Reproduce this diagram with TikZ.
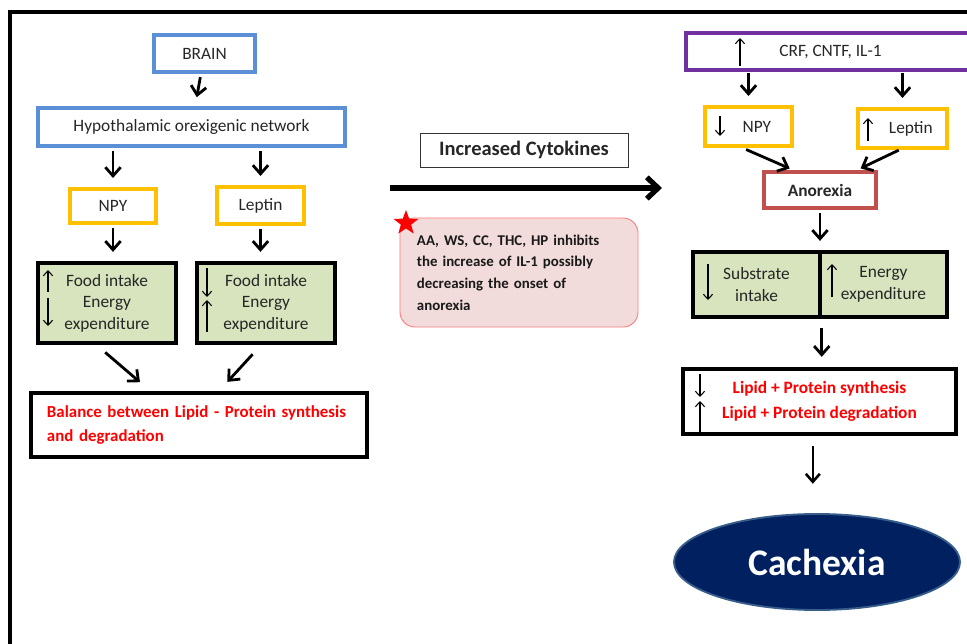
\documentclass[tikz,border=0pt]{standalone}
\usepackage{fontspec}
\setmainfont{Carlito}
\usetikzlibrary{arrows.meta, shapes.geometric}
\definecolor{boxblue}{RGB}{91,143,214}
\definecolor{boxgold}{RGB}{255,192,0}
\definecolor{boxpurple}{RGB}{112,48,160}
\definecolor{boxred}{RGB}{192,80,77}
\definecolor{boxgreen}{RGB}{215,228,189}
\definecolor{notepink}{RGB}{242,220,219}
\definecolor{noteedge}{RGB}{255,124,128}
\definecolor{cachnavy}{RGB}{0,32,96}
\definecolor{cachedge}{RGB}{56,93,138}
\tikzstyle{plain} = [rectangle, inner sep=0, text=black!85, font=\fontsize{14.8}{17}\selectfont, align=center]
\tikzstyle{bluebox} = [plain, draw=boxblue, line width=2.8pt]
\tikzstyle{goldbox} = [plain, draw=boxgold, line width=2.8pt]
\tikzstyle{greenbox} = [plain, draw=black, line width=3pt, fill=boxgreen, font=\fontsize{14.8}{18.3}\selectfont]
\tikzstyle{redtext} = [plain, draw=black, line width=2.8pt, text=red, font=\bfseries\fontsize{14.4}{21}\selectfont]
\tikzstyle{arrow} = [line width=2.4pt, -{Straight Barb[length=2.6mm,width=4.6mm]}, shorten <=3pt, shorten >=8pt]
\tikzstyle{updown} = [line width=0.9pt, -{Straight Barb[length=1.5mm,width=2.8mm]}]

\begin{document}
\begin{tikzpicture}[x=0.03cm,y=-0.03cm]
\useasboundingbox (0,0) rectangle (967,644);
\draw[line width=1.1mm] (10,650)--(10,12)--(975,12);
% left side
\node[bluebox, minimum width=3.03cm, minimum height=1.11cm] (brain) at (204.5,53.5) {BRAIN};
\node[bluebox, minimum width=9.21cm, minimum height=1.14cm] (hypo) at (191.5,127) {Hypothalamic orexigenic network};
\node[goldbox, minimum width=2.58cm, minimum height=1.02cm] (npyL) at (113,206) {NPY};
\node[goldbox, minimum width=2.61cm, minimum height=1.11cm] (leptL) at (260.5,205.5) {Leptin};
\node[greenbox, minimum width=4.14cm, minimum height=2.4cm] (foodL) at (107,303) {Food intake\\Energy\\expenditure};
\node[greenbox, minimum width=4.14cm, minimum height=2.4cm] (foodR) at (266,303) {Food intake\\Energy\\expenditure};
\node[redtext, text width=9.12cm, inner xsep=0.48cm, minimum height=1.92cm, align=left] (balance) at (199,425) {Balance between Lipid - Protein synthesis\\and degradation};
\draw[updown] (48,292)--(48,270);
\draw[updown] (48,298)--(48,326);
\draw[updown] (207,268)--(207,297);
\draw[updown] (207,332)--(207,300);
\draw[arrow] (brain) -- (hypo);
\draw[arrow] (npyL |- hypo.south) -- (npyL.north);
\draw[arrow] (leptL |- hypo.south) -- (leptL.north);
\draw[arrow] (npyL.south) -- (npyL.south |- foodL.north);
\draw[arrow] (leptL.south) -- (leptL.south |- foodR.north);
\draw[arrow, shorten <=10pt, shorten >=12pt] ([xshift=-0.32cm]foodL.south) -- ([xshift=-1.45cm]balance.north);
\draw[arrow, shorten <=11pt, shorten >=11pt] ([xshift=-0.14cm]foodR.south) -- ([xshift=0.59cm]balance.north);
% middle
\node[plain, draw=black!80, line width=0.8pt, minimum width=6.24cm, minimum height=1.02cm, font=\bfseries\fontsize{17.5}{20}\selectfont] (cyto) at (524,150) {Increased Cytokines};
\coordinate (cytoL) at (390,188);
\coordinate (cytoR) at (662,188);
\draw[line width=4.5pt, -{Straight Barb[length=3.4mm,width=6.4mm]}] (cytoL) -- (cytoR);
\node[plain, draw=noteedge, line width=0.8pt, fill=notepink, rounded corners=0.45cm, text width=6.12cm, inner xsep=0.51cm, minimum height=3.27cm, align=left, text=black!90, font=\bfseries\fontsize{12.7}{18.5}\selectfont] (note) at (519,272.5) {AA, WS, CC, THC, HP inhibits\\the increase of IL-1 possibly\\decreasing the onset of\\anorexia};
\node[star, star points=5, star point ratio=2.4, fill=red, minimum size=0.78cm, inner sep=0] (mark) at (406,223) {};
% right side
\node[plain, draw=boxpurple, line width=2.8pt, minimum width=8.67cm, minimum height=1.11cm] (crf) at (830.5,51.5) {CRF, CNTF, IL-1};
\node[goldbox, minimum width=2.61cm, minimum height=1.17cm] (npyR) at (748.5,126.5) {\hspace*{0.5cm}NPY};
\node[goldbox, minimum width=2.67cm, minimum height=1.17cm] (leptR) at (902.5,128.5) {\hspace*{0.5cm}Leptin};
\node[plain, draw=boxred, line width=2.8pt, minimum width=3.36cm, minimum height=1.08cm, font=\bfseries\fontsize{14.8}{17}\selectfont] (anorexia) at (820,190) {Anorexia};
\node[greenbox, minimum width=3.81cm, minimum height=1.95cm] (subs) at (756.5,284.5) {Substrate\\intake};
\node[greenbox, minimum width=3.81cm, minimum height=1.95cm] (energy) at (883.5,284.5) {Energy\\expenditure};
\node[redtext, minimum width=8.19cm, minimum height=1.95cm, font=\bfseries\fontsize{14.8}{21}\selectfont] (lipid) at (819.5,401.5) {Lipid + Protein synthesis\\Lipid + Protein degradation};
\node[ellipse, draw=cachedge, line width=1.6pt, fill=cachnavy, minimum width=8.58cm, minimum height=2.88cm, text=white, font=\bfseries\fontsize{32}{36}\selectfont] (cachexia) at (817,562) {Cachexia};
\draw[updown] (740,66)--(740,38);
\draw[updown] (720,116)--(720,136);
\draw[updown] (868,141)--(868,118);
\draw[updown] (708,264)--(708,300);
\draw[updown] (832,297)--(832,264);
\draw[updown] (700,374)--(700,397);
\draw[updown] (700,432)--(700,401);
\draw[arrow, shorten <=1pt] (npyR |- crf.south) -- (npyR.north);
\draw[arrow, shorten <=1pt] (leptR |- crf.south) -- (leptR.north);
\draw[arrow, shorten <=4pt, shorten >=4pt] ([xshift=-0.2cm]npyR.south) -- ([xshift=-0.78cm]anorexia.north);
\draw[arrow, shorten <=1pt, shorten >=4pt] ([xshift=-0.08cm]leptR.south) -- ([xshift=1.09cm]anorexia.north);
\draw[arrow] (anorexia.south) -- (anorexia.south |- subs.north);
\draw[arrow, shorten <=8pt, shorten >=9pt] (subs.south east) -- (subs.south east |- lipid.north);
\draw[line width=2.2pt, -{Straight Barb[length=2.4mm,width=4.2mm]}, shorten <=9pt, shorten >=25pt] ([xshift=-0.2cm]lipid.south) -- ([xshift=-0.2cm]lipid.south |- cachexia.north);
\end{tikzpicture}
\end{document}
